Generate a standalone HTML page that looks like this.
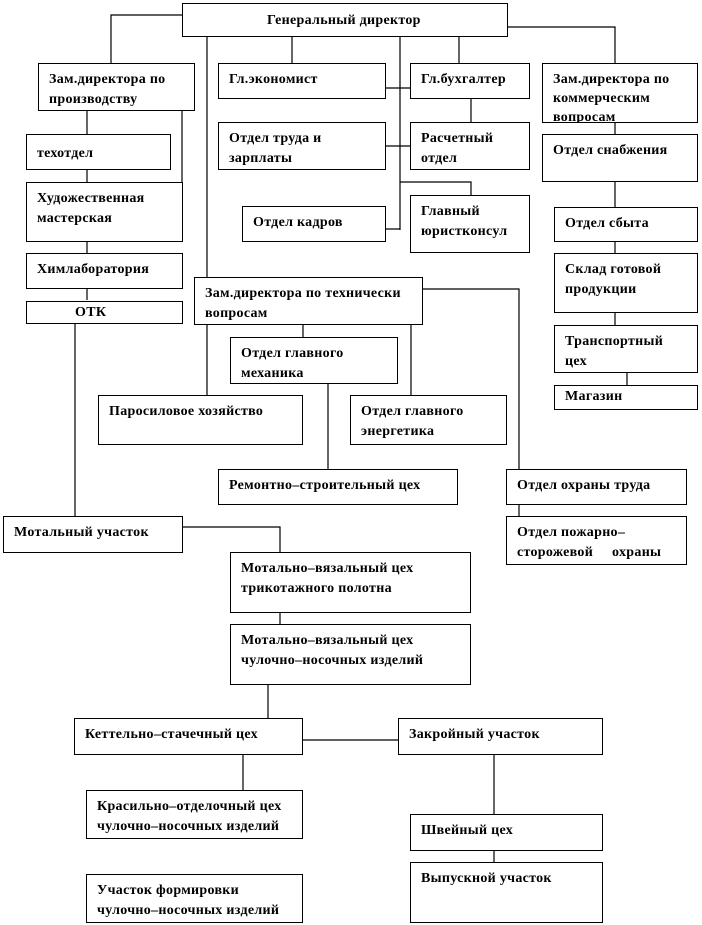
<!DOCTYPE html>
<html><head><meta charset="utf-8"><style>
body{margin:0;width:702px;height:925px;background:#fff;position:relative;overflow:hidden;font-family:"Liberation Serif","Noto Serif CJK SC",serif;font-weight:bold;font-size:14px;color:#000}
.b{position:absolute;border:1.3px solid #000;box-sizing:border-box;background:#fff;padding:6px 0 0 10px;line-height:20px;letter-spacing:0.3px;white-space:nowrap;overflow:hidden}
svg{position:absolute;left:0;top:0}
</style></head><body>
<svg width="702" height="925" stroke="#000" stroke-width="1.2" fill="none">
<path d="M182 15H111V63M508 27H615V63M207 37V277M292 37V63M459 37V63M400 37V230M386 88H410M386 146H410M386 229H400M471 98V122M400 182H471V195M87 110V134M87 170V182M87 241V253M87 288V300M182 110V218M615 122V134M615 182V207M615 242V253M615 313V325M627 373V385M423 289H519V469M303 325V337M207 325V395M411 325V395M328 384V469M75 323V516M519 504V516M182 527H280V552M280 612V624M268 684V718M302 740H398M243 754V790M494 754V814M494 850V862"/>
</svg>
<div class="b" style="left:182px;top:3px;width:326px;height:34px;padding:7px 0 0 84px">Генеральный директор</div>
<div class="b" style="left:38px;top:63px;width:157px;height:48px">Зам.директора по<br>производству</div>
<div class="b" style="left:218px;top:63px;width:168px;height:36px">Гл.экономист</div>
<div class="b" style="left:410px;top:63px;width:120px;height:36px">Гл.бухгалтер</div>
<div class="b" style="left:542px;top:63px;width:156px;height:60px;line-height:19px">Зам.директора по<br>коммерческим<br>вопросам</div>
<div class="b" style="left:26px;top:134px;width:145px;height:36px;padding-top:9px">техотдел</div>
<div class="b" style="left:218px;top:122px;width:168px;height:48px">Отдел труда и<br>зарплаты</div>
<div class="b" style="left:410px;top:122px;width:120px;height:48px">Расчетный<br>отдел</div>
<div class="b" style="left:542px;top:134px;width:156px;height:48px">Отдел снабжения</div>
<div class="b" style="left:26px;top:182px;width:157px;height:60px">Художественная<br>мастерская</div>
<div class="b" style="left:242px;top:206px;width:144px;height:36px">Отдел кадров</div>
<div class="b" style="left:410px;top:195px;width:120px;height:58px">Главный<br>юристконсул</div>
<div class="b" style="left:554px;top:207px;width:144px;height:35px">Отдел сбыта</div>
<div class="b" style="left:26px;top:253px;width:157px;height:36px">Химлаборатория</div>
<div class="b" style="left:554px;top:253px;width:144px;height:60px">Склад готовой<br>продукции</div>
<div class="b" style="left:194px;top:277px;width:229px;height:48px">Зам.директора по технически<br>вопросам</div>
<div class="b" style="left:26px;top:301px;width:157px;height:23px;padding:1px 0 0 48px">ОТК</div>
<div class="b" style="left:554px;top:325px;width:144px;height:48px">Транспортный<br>цех</div>
<div class="b" style="left:230px;top:337px;width:168px;height:47px">Отдел главного<br>механика</div>
<div class="b" style="left:554px;top:385px;width:144px;height:25px;padding-top:1px">Магазин</div>
<div class="b" style="left:98px;top:395px;width:205px;height:50px">Паросиловое хозяйство</div>
<div class="b" style="left:350px;top:395px;width:157px;height:50px">Отдел главного<br>энергетика</div>
<div class="b" style="left:218px;top:469px;width:240px;height:36px">Ремонтно–строительный цех</div>
<div class="b" style="left:506px;top:469px;width:181px;height:36px">Отдел охраны труда</div>
<div class="b" style="left:3px;top:516px;width:180px;height:37px">Мотальный участок</div>
<div class="b" style="left:506px;top:516px;width:181px;height:49px">Отдел пожарно–<br>сторожевой &nbsp;&nbsp;&nbsp;&nbsp;охраны</div>
<div class="b" style="left:230px;top:552px;width:241px;height:61px">Мотально–вязальный цех<br>трикотажного полотна</div>
<div class="b" style="left:230px;top:624px;width:241px;height:61px">Мотально–вязальный цех<br>чулочно–носочных изделий</div>
<div class="b" style="left:74px;top:718px;width:229px;height:37px">Кеттельно–стачечный цех</div>
<div class="b" style="left:398px;top:718px;width:205px;height:37px">Закройный участок</div>
<div class="b" style="left:86px;top:790px;width:217px;height:49px">Красильно–отделочный цех<br>чулочно–носочных изделий</div>
<div class="b" style="left:410px;top:814px;width:193px;height:37px">Швейный цех</div>
<div class="b" style="left:410px;top:862px;width:193px;height:61px">Выпускной участок</div>
<div class="b" style="left:86px;top:874px;width:217px;height:49px">Участок формировки<br>чулочно–носочных изделий</div>
</body></html>
